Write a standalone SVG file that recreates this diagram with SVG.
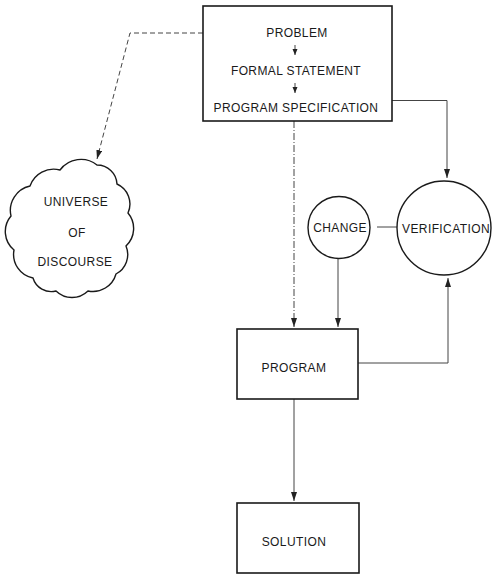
<svg xmlns="http://www.w3.org/2000/svg" width="492" height="574" viewBox="0 0 492 574">
<defs>
<marker id="ah" markerUnits="userSpaceOnUse" markerWidth="10" markerHeight="8" refX="9" refY="3" orient="auto">
<path d="M0,0 L9,3 L0,6 z" fill="#222"/>
</marker>
<marker id="ahs" markerUnits="userSpaceOnUse" markerWidth="8" markerHeight="6" refX="6" refY="2.5" orient="auto">
<path d="M0,0 L6,2.5 L0,5 z" fill="#222"/>
</marker>
</defs>
<style>
text{font-family:"Liberation Sans",Arial,sans-serif;font-size:12px;letter-spacing:0.4px;fill:#1a1a1a;text-anchor:middle}
.box{fill:#fff;stroke:#1a1a1a;stroke-width:1.6}
.circ{fill:#fff;stroke:#1a1a1a;stroke-width:1.4}
.ln{fill:none;stroke:#444;stroke-width:1}
</style>
<rect width="492" height="574" fill="#fff"/>
<g id="connectors">
<path class="ln" d="M203,33 H130 L97,159" stroke-dasharray="5,3" marker-end="url(#ah)"/>
<path class="ln" d="M294,121 V327" stroke-dasharray="7,2,1,2" marker-end="url(#ah)"/>
<path class="ln" d="M392,100.5 H447 V178" marker-end="url(#ah)"/>
<path class="ln" d="M338,258 V327" marker-end="url(#ah)"/>
<path class="ln" d="M377,227 H398"/>
<path class="ln" d="M358,363 H448 V278" marker-end="url(#ah)"/>
<path class="ln" d="M294,399 V501" marker-end="url(#ah)"/>
</g>
<g id="problem-box">
<rect class="box" x="203" y="6" width="189" height="115"/>
<text x="297" y="37">PROBLEM</text>
<path class="ln" d="M295,45 V55" marker-end="url(#ahs)"/>
<text x="296" y="75">FORMAL STATEMENT</text>
<path class="ln" d="M295,83 V93" marker-end="url(#ahs)"/>
<text x="296" y="112">PROGRAM SPECIFICATION</text>
</g>
<g id="universe">
<path fill="#fff" stroke="#1a1a1a" stroke-width="1.4" d="M60,170 A26,26 0 0 1 97,165 A20,20 0 0 1 117,184 A22,22 0 0 1 128,213 A24,24 0 0 1 126,246 A22,22 0 0 1 116,274 A24,24 0 0 1 88,291 A23,23 0 0 1 56,291 A19,19 0 0 1 33,278 A24,24 0 0 1 14,250 A24,24 0 0 1 11,216 A25,25 0 0 1 30,186 A25,25 0 0 1 60,170 Z"/>
<text x="76" y="206">UNIVERSE</text>
<text x="77" y="237">OF</text>
<text x="75" y="266">DISCOURSE</text>
</g>
<g id="change">
<circle class="circ" cx="339" cy="227.5" r="31"/>
<text x="340" y="232">CHANGE</text>
</g>
<g id="verification">
<circle class="circ" cx="444" cy="228" r="47"/>
<text x="446" y="233">VERIFICATION</text>
</g>
<g id="program">
<rect class="box" x="237" y="329" width="121" height="70"/>
<text x="294" y="372">PROGRAM</text>
</g>
<g id="solution">
<rect class="box" x="237" y="503" width="122" height="70"/>
<text x="294" y="546">SOLUTION</text>
</g>
</svg>
